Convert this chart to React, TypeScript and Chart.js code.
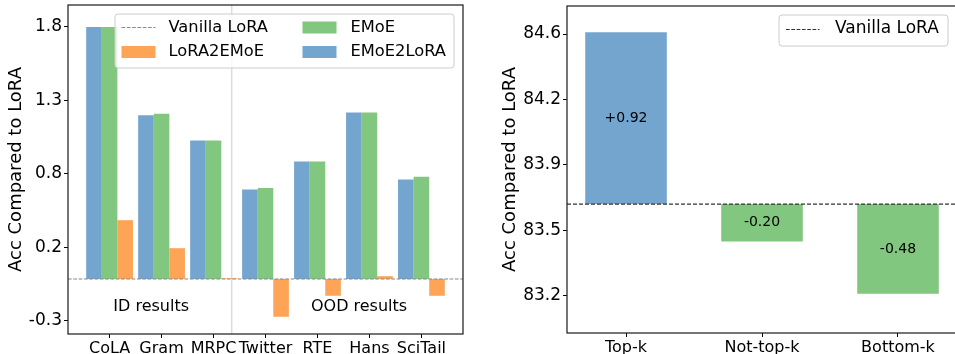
import React, { useEffect, useRef } from 'react';
import { Chart, registerables } from 'chart.js';

Chart.register(...registerables);

// ---------- Left chart data ----------
const categories = ['CoLA', 'Gram', 'MRPC', 'Twitter', 'RTE', 'Hans', 'SciTail'];
const emoe2loraValues = [1.8, 1.17, 0.99, 0.64, 0.84, 1.19, 0.71];
const emoeValues = [1.8, 1.18, 0.99, 0.65, 0.84, 1.19, 0.73];
const lora2emoeValues = [0.42, 0.22, 0.005, -0.27, -0.12, 0.02, -0.12];
const leftYTickValues = [-0.3, 0.225, 0.75, 1.275, 1.8];
const leftYTickLabels = ['-0.3', '0.2', '0.8', '1.3', '1.8'];
const vanillaDelta = 0;
const groupLabels = ['ID results', 'OOD results'];
const groupLabelX = [0.8, 4.8];
const groupLabelY = -0.2;
const separatorX = 2.35;

// ---------- Right chart data ----------
const topkCategories = ['Top-k', 'Not-top-k', 'Bottom-k'];
const vanillaAcc = 83.69;
const topkAcc = [84.61, 83.49, 83.21];
const rightYTickValues = [83.2, 83.55, 83.9, 84.25, 84.6];
const rightYTickLabels = ['83.2', '83.5', '83.9', '84.2', '84.6'];

const BLUE = '#74a5cf';
const GREEN = '#82c77f';
const ORANGE = '#fea456';
const FONT = "'DejaVu Sans', sans-serif";

function roundRect(ctx: CanvasRenderingContext2D, x: number, y: number, w: number, h: number, r: number) {
  ctx.beginPath();
  ctx.moveTo(x + r, y);
  ctx.lineTo(x + w - r, y);
  ctx.quadraticCurveTo(x + w, y, x + w, y + r);
  ctx.lineTo(x + w, y + h - r);
  ctx.quadraticCurveTo(x + w, y + h, x + w - r, y + h);
  ctx.lineTo(x + r, y + h);
  ctx.quadraticCurveTo(x, y + h, x, y + h - r);
  ctx.lineTo(x, y + r);
  ctx.quadraticCurveTo(x, y, x + r, y);
  ctx.closePath();
}

function drawFrame(chart: any) {
  const { ctx, chartArea: a } = chart;
  ctx.save();
  ctx.strokeStyle = '#1a1a1a';
  ctx.lineWidth = 1.2;
  ctx.strokeRect(a.left, a.top, a.right - a.left, a.bottom - a.top);
  ctx.restore();
}

function zeroPad(s: any) {
  s.paddingTop = 0;
  s.paddingBottom = 0;
  s.paddingLeft = 0;
  s.paddingRight = 0;
}

const leftDecor = {
  id: 'leftDecor',
  beforeDatasetsDraw(chart: any) {
    const { ctx, chartArea: a, scales } = chart;
    const sx = scales.x.getPixelForValue(separatorX);
    ctx.save();
    ctx.strokeStyle = '#dcdcdc';
    ctx.lineWidth = 1.5;
    ctx.beginPath();
    ctx.moveTo(sx, a.top);
    ctx.lineTo(sx, a.bottom);
    ctx.stroke();
    ctx.restore();
  },
  afterDatasetsDraw(chart: any) {
    const { ctx, chartArea: a, scales } = chart;
    ctx.save();
    const zy = scales.y.getPixelForValue(vanillaDelta);
    ctx.strokeStyle = '#888888';
    ctx.lineWidth = 1.2;
    ctx.setLineDash([3.7, 1.6]);
    ctx.beginPath();
    ctx.moveTo(a.left, zy);
    ctx.lineTo(a.right, zy);
    ctx.stroke();
    ctx.setLineDash([]);
    ctx.fillStyle = '#000';
    ctx.font = `16px ${FONT}`;
    ctx.textAlign = 'center';
    ctx.textBaseline = 'middle';
    groupLabels.forEach((t, i) => {
      ctx.fillText(t, scales.x.getPixelForValue(groupLabelX[i]), scales.y.getPixelForValue(groupLabelY));
    });
    ctx.restore();
    drawFrame(chart);
    // legend
    ctx.save();
    roundRect(ctx, 115, 14, 339, 54, 3);
    ctx.fillStyle = 'rgba(255,255,255,0.8)';
    ctx.fill();
    ctx.strokeStyle = '#cccccc';
    ctx.lineWidth = 1;
    ctx.stroke();
    const row1 = 27.5;
    const row2 = 52;
    ctx.strokeStyle = '#888888';
    ctx.lineWidth = 1.2;
    ctx.setLineDash([3.7, 1.6]);
    ctx.beginPath();
    ctx.moveTo(121.5, row1);
    ctx.lineTo(155.5, row1);
    ctx.stroke();
    ctx.setLineDash([]);
    ctx.fillStyle = ORANGE;
    ctx.fillRect(121.5, row2 - 6, 34, 12);
    ctx.fillStyle = GREEN;
    ctx.fillRect(302.5, row1 - 6, 34, 12);
    ctx.fillStyle = BLUE;
    ctx.fillRect(302.5, row2 - 6, 34, 12);
    ctx.fillStyle = '#000';
    ctx.font = `16.3px ${FONT}`;
    ctx.textAlign = 'left';
    ctx.textBaseline = 'middle';
    ctx.fillText('Vanilla LoRA', 168.5, row1);
    ctx.fillText('LoRA2EMoE', 168.5, row2);
    ctx.fillText('EMoE', 350.5, row1);
    ctx.fillText('EMoE2LoRA', 350.5, row2);
    ctx.restore();
  },
};

const rightDecor = {
  id: 'rightDecor',
  afterDatasetsDraw(chart: any) {
    const { ctx, chartArea: a, scales } = chart;
    ctx.save();
    const vy = scales.y.getPixelForValue(vanillaAcc);
    ctx.strokeStyle = '#333333';
    ctx.lineWidth = 1.2;
    ctx.setLineDash([4, 2]);
    ctx.beginPath();
    ctx.moveTo(a.left, vy);
    ctx.lineTo(a.right, vy);
    ctx.stroke();
    ctx.setLineDash([]);
    const meta = chart.getDatasetMeta(0);
    ctx.fillStyle = '#000';
    ctx.font = `14px ${FONT}`;
    ctx.textAlign = 'center';
    ctx.textBaseline = 'middle';
    meta.data.forEach((el: any, i: number) => {
      const d = topkAcc[i] - vanillaAcc;
      const txt = (d >= 0 ? '+' : '') + d.toFixed(2);
      ctx.fillText(txt, el.x, (el.y + el.base) / 2);
    });
    ctx.restore();
    drawFrame(chart);
    ctx.save();
    const ox = -480;
    roundRect(ctx, 779 + ox, 15, 169, 31, 3);
    ctx.fillStyle = 'rgba(255,255,255,0.8)';
    ctx.fill();
    ctx.strokeStyle = '#cccccc';
    ctx.lineWidth = 1;
    ctx.stroke();
    ctx.strokeStyle = '#333333';
    ctx.lineWidth = 1.2;
    ctx.setLineDash([3.7, 1.6]);
    ctx.beginPath();
    ctx.moveTo(786 + ox, 29.5);
    ctx.lineTo(819.5 + ox, 29.5);
    ctx.stroke();
    ctx.setLineDash([]);
    ctx.fillStyle = '#000';
    ctx.font = `17px ${FONT}`;
    ctx.textAlign = 'left';
    ctx.textBaseline = 'middle';
    ctx.fillText('Vanilla LoRA', 835 + ox, 29);
    ctx.restore();
  },
};

function LeftChart() {
  const ref = useRef<HTMLCanvasElement>(null);
  useEffect(() => {
    const chart = new Chart(ref.current as HTMLCanvasElement, {
      type: 'bar',
      data: {
        datasets: [
          { label: 'EMoE2LoRA', data: emoe2loraValues.map((v, i) => ({ x: i, y: v })), backgroundColor: BLUE },
          { label: 'EMoE', data: emoeValues.map((v, i) => ({ x: i, y: v })), backgroundColor: GREEN },
          { label: 'LoRA2EMoE', data: lora2emoeValues.map((v, i) => ({ x: i, y: v })), backgroundColor: ORANGE },
        ],
      } as any,
      options: {
        animation: false,
        responsive: false,
        devicePixelRatio: 1,
        layout: { padding: { top: 5, right: 17, left: 0, bottom: 0 } },
        datasets: { bar: { categoryPercentage: 0.9, barPercentage: 1.0, borderWidth: 0 } },
        plugins: { legend: { display: false }, tooltip: { enabled: false } },
        scales: {
          x: {
            type: 'linear',
            min: -0.8,
            max: 6.8,
            offset: false,
            afterBuildTicks: (s: any) => {
              s.ticks = categories.map((_, i) => ({ value: i }));
            },
            afterFit: (s: any) => {
              s.height = 20;
              zeroPad(s);
            },
            ticks: {
              callback: (_v: any, i: number) => categories[i],
              font: { family: FONT, size: 16 },
              color: '#000',
              padding: 1,
              maxRotation: 0,
              autoSkip: false,
            },
            grid: { display: true, offset: false, drawOnChartArea: false, drawTicks: true, tickLength: 4, tickColor: '#000' },
            border: { display: false },
          },
          y: {
            type: 'linear',
            min: -0.393,
            max: 1.957,
            afterBuildTicks: (s: any) => {
              s.ticks = leftYTickValues.map((v) => ({ value: v }));
            },
            afterFit: (s: any) => {
              s.width = 68;
              zeroPad(s);
            },
            ticks: {
              callback: (_v: any, i: number) => leftYTickLabels[i],
              font: { family: FONT, size: 17 },
              color: '#000',
              padding: 2,
            },
            title: {
              display: true,
              text: 'Acc Compared to LoRA',
              font: { family: FONT, size: 18 },
              color: '#000',
              padding: { top: 6, bottom: 0 },
            },
            grid: { display: true, drawOnChartArea: false, drawTicks: true, tickLength: 4, tickColor: '#000' },
            border: { display: false },
          },
        },
      } as any,
      plugins: [leftDecor],
    });
    return () => chart.destroy();
  }, []);
  return <canvas ref={ref} width={480} height={354} style={{ position: 'absolute', left: 0, top: 0, width: 480, height: 354 }} />;
}

function RightChart() {
  const ref = useRef<HTMLCanvasElement>(null);
  useEffect(() => {
    const chart = new Chart(ref.current as HTMLCanvasElement, {
      type: 'bar',
      data: {
        datasets: [
          {
            label: 'Acc',
            data: topkAcc.map((v, i) => ({ x: i, y: [vanillaAcc, v] })),
            backgroundColor: topkAcc.map((v) => (v >= vanillaAcc ? BLUE : GREEN)),
          },
        ],
      } as any,
      options: {
        animation: false,
        responsive: false,
        devicePixelRatio: 1,
        layout: { padding: { top: 6, right: 3, left: 0, bottom: 0 } },
        datasets: { bar: { categoryPercentage: 0.6, barPercentage: 1.0, borderWidth: 0 } },
        plugins: { legend: { display: false }, tooltip: { enabled: false } },
        scales: {
          x: {
            type: 'linear',
            min: -0.434,
            max: 2.434,
            offset: false,
            afterBuildTicks: (s: any) => {
              s.ticks = topkCategories.map((_, i) => ({ value: i }));
            },
            afterFit: (s: any) => {
              s.height = 21;
              zeroPad(s);
            },
            ticks: {
              callback: (_v: any, i: number) => topkCategories[i],
              font: { family: FONT, size: 16 },
              color: '#000',
              padding: 1,
              maxRotation: 0,
              autoSkip: false,
            },
            grid: { display: true, offset: false, drawOnChartArea: false, drawTicks: true, tickLength: 4, tickColor: '#000' },
            border: { display: false },
          },
          y: {
            type: 'linear',
            min: 83.0,
            max: 84.75,
            afterBuildTicks: (s: any) => {
              s.ticks = rightYTickValues.map((v) => ({ value: v }));
            },
            afterFit: (s: any) => {
              s.width = 87;
              zeroPad(s);
            },
            ticks: {
              callback: (_v: any, i: number) => rightYTickLabels[i],
              font: { family: FONT, size: 17 },
              color: '#000',
              padding: 2,
            },
            title: {
              display: true,
              text: 'Acc Compared to LoRA',
              font: { family: FONT, size: 18 },
              color: '#000',
              padding: { top: 20, bottom: 0 },
            },
            grid: { display: true, drawOnChartArea: false, drawTicks: true, tickLength: 4, tickColor: '#000' },
            border: { display: false },
          },
        },
      } as any,
      plugins: [rightDecor],
    });
    return () => chart.destroy();
  }, []);
  return <canvas ref={ref} width={480} height={354} style={{ position: 'absolute', left: 480, top: 0, width: 480, height: 354 }} />;
}

export default function App() {
  return (
    <div style={{ position: 'fixed', left: 0, top: 0, width: 955, height: 354, overflow: 'hidden', background: '#fff' }}>
      <LeftChart />
      <RightChart />
    </div>
  );
}
